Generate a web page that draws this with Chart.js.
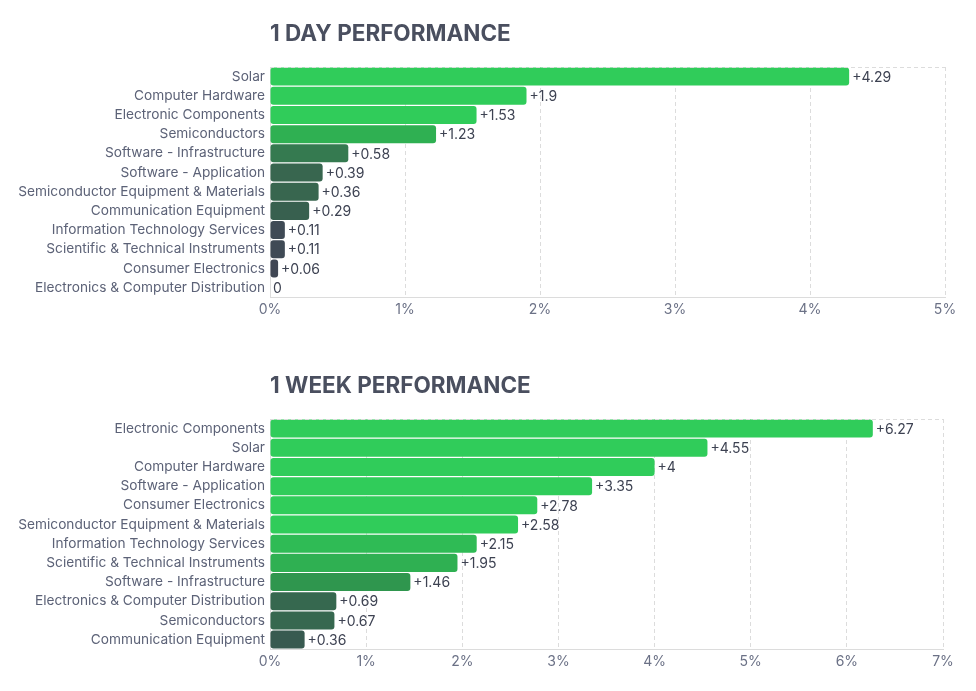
<!DOCTYPE html>
<html>
<head>
<meta charset="utf-8">
<script src="https://cdn.jsdelivr.net/npm/chart.js@4.4.1/dist/chart.umd.min.js"></script>
<style>
  body { margin: 0; background: #fff; }
  .box { position: relative; width: 976px; }
</style>
</head>
<body>
<div class="box" style="height:352px"><canvas id="dayChart"></canvas></div>
<div class="box" style="height:339px"><canvas id="weekChart"></canvas></div>
<script>
// 1 day performance
const dayLabels = ['Solar', 'Computer Hardware', 'Electronic Components', 'Semiconductors',
    'Software - Infrastructure', 'Software - Application', 'Semiconductor Equipment & Materials',
    'Communication Equipment', 'Information Technology Services', 'Scientific & Technical Instruments',
    'Consumer Electronics', 'Electronics & Computer Distribution'];
const dayValues = [4.29, 1.9, 1.53, 1.23, 0.58, 0.39, 0.36, 0.29, 0.11, 0.11, 0.06, 0];
const dayColors = ['#30cc5a', '#30cc5a', '#30cc5a', '#2fb052', '#357a50', '#38664f',
    '#38664f', '#38604f', '#3f4a55', '#3f4a55', '#404754', '#414554'];
const dayTicks = [0, 1, 2, 3, 4, 5];

// 1 week performance
const weekLabels = ['Electronic Components', 'Solar', 'Computer Hardware', 'Software - Application',
    'Consumer Electronics', 'Semiconductor Equipment & Materials', 'Information Technology Services',
    'Scientific & Technical Instruments', 'Software - Infrastructure',
    'Electronics & Computer Distribution', 'Semiconductors', 'Communication Equipment'];
const weekValues = [6.27, 4.55, 4, 3.35, 2.78, 2.58, 2.15, 1.95, 1.46, 0.69, 0.67, 0.36];
const weekColors = ['#30cc5a', '#30cc5a', '#30cc5a', '#30cc5a', '#30cc5a', '#30cc5a',
    '#2fbb55', '#2fb052', '#2f964e', '#36684f', '#36684f', '#385a50'];
const weekTicks = [0, 1, 2, 3, 4, 5, 6, 7];

const FONT = 'Inter, "Noto Sans", sans-serif';

// draws "+x.xx" right after each bar, and the dashed top border
const valueLabels = {
    id: 'valueLabels',
    afterDatasetsDraw(chart) {
        const ctx = chart.ctx;
        const area = chart.chartArea;
        ctx.save();
        ctx.strokeStyle = '#dcdcdc';
        ctx.lineWidth = 1;
        ctx.setLineDash([4, 3]);
        ctx.beginPath();
        ctx.moveTo(area.left, area.top + 0.5);
        ctx.lineTo(area.right, area.top + 0.5);
        ctx.stroke();
        ctx.setLineDash([]);

        ctx.font = '14px ' + FONT;
        ctx.fillStyle = '#3d4252';
        ctx.textBaseline = 'middle';
        ctx.textAlign = 'left';
        const meta = chart.getDatasetMeta(0);
        const data = chart.data.datasets[0].data;
        meta.data.forEach((bar, i) => {
            const v = data[i];
            const txt = v > 0 ? '+' + v : String(v);
            ctx.fillText(txt, bar.x + 3, bar.y + 1);
        });
        ctx.restore();
    }
};

function makeChart(id, title, labels, values, colors, ticks, padRight, padBottom) {
    const ctx = document.getElementById(id).getContext('2d');
    return new Chart(ctx, {
        type: 'bar',
        data: {
            labels: labels,
            datasets: [{
                data: values,
                backgroundColor: colors,
                borderRadius: 3,
                borderSkipped: false,
                barPercentage: 0.94,
                categoryPercentage: 1
            }]
        },
        options: {
            indexAxis: 'y',
            responsive: true,
            maintainAspectRatio: false,
            animation: false,
            layout: { padding: { left: 0, right: padRight, top: 0, bottom: padBottom } },
            plugins: {
                legend: { display: false },
                tooltip: { enabled: false },
                title: {
                    display: true,
                    text: title,
                    align: 'start',
                    fullSize: false,
                    color: '#4a4f5f',
                    font: { family: FONT, size: 22.5, weight: 'bold' },
                    padding: { top: 21, bottom: 19 }
                }
            },
            scales: {
                x: {
                    min: ticks[0],
                    max: ticks[ticks.length - 1],
                    afterBuildTicks: (scale) => { scale.ticks = ticks.map(v => ({ value: v })); },
                    grid: { color: '#dcdcdc', tickLength: 0 },
                    border: { dash: [4, 3], color: '#dcdcdc' },
                    ticks: {
                        color: '#6b7186',
                        font: { family: FONT, size: 14 },
                        padding: 4,
                        callback: v => v + '%'
                    }
                },
                y: {
                    grid: { display: false, drawTicks: false, tickLength: 0 },
                    border: { dash: [4, 3], color: '#dcdcdc' },
                    afterFit: (scale) => { scale.width = 270; },
                    ticks: {
                        color: '#5c6277',
                        font: { family: FONT, size: 13.7 },
                        padding: 5,
                        autoSkip: false
                    }
                }
            }
        },
        plugins: [valueLabels]
    });
}

makeChart('dayChart', '1 DAY PERFORMANCE', dayLabels, dayValues, dayColors, dayTicks, 31, 30);
makeChart('weekChart', '1 WEEK PERFORMANCE', weekLabels, weekValues, weekColors, weekTicks, 33, 17);
</script>
</body>
</html>
